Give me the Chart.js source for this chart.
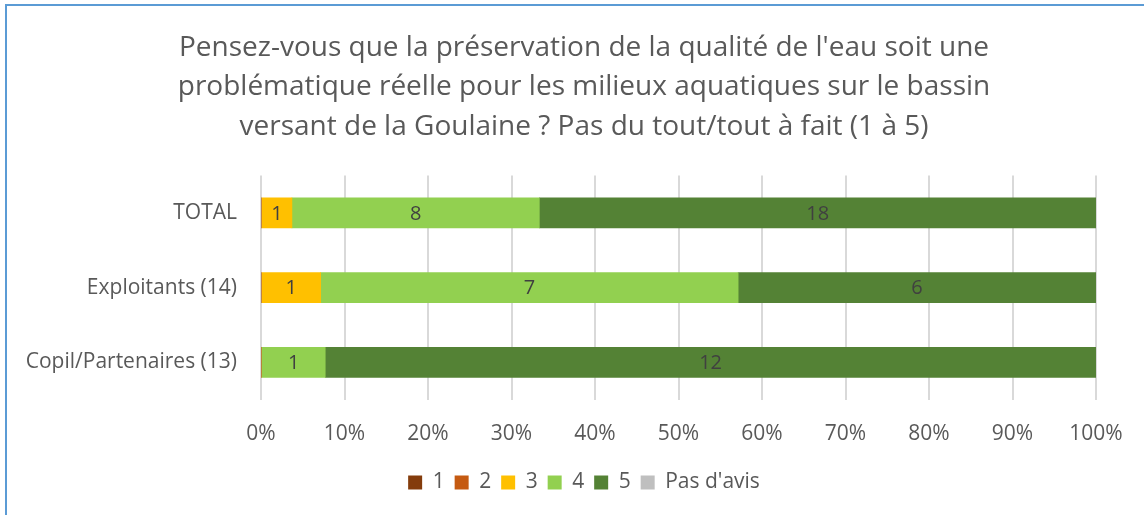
<!DOCTYPE html>
<html>
<head>
<meta charset="utf-8">
<script src="https://cdn.jsdelivr.net/npm/chart.js@4"></script>
<style>
  body { margin: 0; background: #fff; overflow: hidden; }
  #wrap { position: relative; width: 1144px; height: 515px; }
  #frame { position: absolute; left: 5px; top: 4px; width: 1200px; height: 600px;
    border-left: 2px solid #5B9BD5; border-top: 2px solid #5B9BD5; pointer-events: none; }
  canvas { position: absolute; left: 0; top: 0; }
</style>
</head>
<body>
<div id="wrap">
  <canvas id="chart" width="1144" height="515"></canvas>
  <div id="frame"></div>
</div>
<script>
// Données (nombre de réponses)
const categories = ['TOTAL', 'Exploitants (14)', 'Copil/Partenaires (13)']
const seriesNames = ['1', '2', '3', '4', '5', "Pas d'avis"]
const note1 = [0, 0, 0]
const note2 = [0, 0, 0]
const note3 = [1, 1, 0]
const note4 = [8, 7, 1]
const note5 = [18, 6, 12]
const pasAvis = [0, 0, 0]
const xTicks = ['0%', '10%', '20%', '30%', '40%', '50%', '60%', '70%', '80%', '90%', '100%']

const colors = ['#843C0C', '#C55A11', '#FFC000', '#92D050', '#548235', '#BFBFBF']
const FONT = '"Open Sans"'

const counts = [note1, note2, note3, note4, note5, pasAvis]
const totals = categories.map((c, i) => counts.reduce((s, arr) => s + arr[i], 0))

const datasets = counts.map((arr, k) => ({
  label: seriesNames[k],
  data: arr.map((v, i) => (v / totals[i]) * 100),
  counts: arr,
  backgroundColor: colors[k],
  borderWidth: 0,
  barThickness: 30,
}))

// Étiquettes de valeur au centre des barres
const valueLabels = {
  id: 'valueLabels',
  afterDatasetsDraw(chart) {
    const ctx = chart.ctx
    ctx.save()
    ctx.font = '20px ' + FONT
    ctx.fillStyle = '#404040'
    ctx.textAlign = 'center'
    ctx.textBaseline = 'middle'
    chart.data.datasets.forEach((ds, k) => {
      chart.getDatasetMeta(k).data.forEach((bar, i) => {
        const n = ds.counts[i]
        if (!n) return
        const p = bar.getProps(['x', 'y', 'base'], true)
        ctx.fillText(String(n), (p.x + p.base) / 2, p.y + 1)
      })
    })
    ctx.restore()
  },
}

// Titre et légende centrés sur le cadre, pas sur la zone à gauche de la marge droite
const shiftBlocks = {
  id: 'shiftBlocks',
  afterLayout(chart) {
    if (chart.titleBlock) chart.titleBlock.left = 72
    if (chart.legend) chart.legend.left = 72
  },
}

new Chart(document.getElementById('chart'), {
  type: 'bar',
  data: { labels: categories, datasets: datasets },
  plugins: [valueLabels, shiftBlocks],
  options: {
    indexAxis: 'y',
    responsive: false,
    animation: false,
    layout: { padding: { left: 0, right: 48, bottom: 12 } },
    plugins: {
      title: {
        display: true,
        text: [
          "Pensez-vous que la préservation de la qualité de l'eau soit une",
          'problématique réelle pour les milieux aquatiques sur le bassin',
          'versant de la Goulaine ? Pas du tout/tout à fait (1 à 5)',
        ],
        color: '#595959',
        font: { family: FONT, size: 28, weight: 'normal', lineHeight: 1.41 },
        padding: { top: 28, bottom: 29 },
      },
      legend: {
        position: 'bottom',
        labels: {
          color: '#595959',
          font: { family: FONT, size: 21 },
          boxWidth: 14,
          boxHeight: 14,
          padding: 10,
        },
      },
      tooltip: { enabled: false },
    },
    scales: {
      x: {
        stacked: true,
        min: 0,
        max: 100,
        grid: { color: '#D9D9D9', lineWidth: 2, drawTicks: true, tickLength: 3, tickColor: 'rgba(0,0,0,0)' },
        border: { display: false },
        ticks: {
          stepSize: 10,
          padding: 19,
          color: '#595959',
          font: { family: FONT, size: 21 },
          callback: (v, i) => xTicks[i],
        },
        afterFit: (scale) => { scale.height -= 4 },
      },
      y: {
        stacked: true,
        grid: { display: false },
        border: { display: false },
        ticks: { color: '#595959', font: { family: FONT, size: 21 }, padding: 16 },
        afterFit: (scale) => { scale.width = 261 },
      },
    },
  },
})
</script>
</body>
</html>
